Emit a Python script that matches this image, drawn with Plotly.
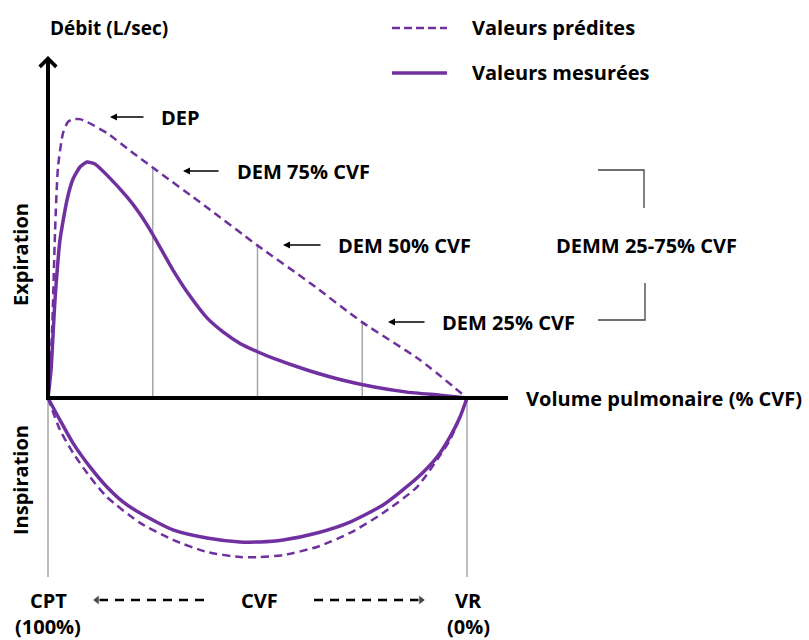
import plotly.graph_objects as go

# volume in % CVF (100 = CPT on the left, 0 = VR on the right), flow in L/sec
pred_exp_vol = [100, 99.05, 98.33, 97.61, 96.42, 95.23, 94.03, 92.36, 90.69, 85.92, 79.71,
                75.18, 62.53, 50.12, 37.47, 25.06, 11.22, 0]
pred_exp_flow = [0, 2.32, 5.89, 8.25, 9.46, 9.86, 9.96, 9.96, 9.86, 9.46, 8.75,
                 8.25, 6.86, 5.46, 4.11, 2.71, 1.36, 0]

meas_exp_vol = [100, 99.28, 98.33, 97.14, 95.47, 94.03, 92.36, 90.69, 88.78, 85.92, 81.15,
                78.04, 75.18, 70.17, 66.11, 62.05, 58.23, 54.18, 50.12, 46.30, 38.19,
                30.31, 22.43, 14.32, 6.44, 0]
meas_exp_flow = [0, 1.0, 3.5, 5.64, 7.07, 7.82, 8.25, 8.43, 8.36, 7.96, 7.18,
                 6.57, 5.89, 4.57, 3.64, 2.86, 2.36, 1.95, 1.66, 1.42, 1.0,
                 0.66, 0.40, 0.21, 0.10, 0]

meas_insp_vol = [100, 97.14, 94.03, 89.98, 85.92, 82.10, 78.04, 70.17, 62.05, 54.18, 49.40,
                 43.91, 35.80, 27.92, 20.05, 11.93, 7.16, 4.06, 1.67, 0]
meas_insp_flow = [0, -0.79, -1.61, -2.46, -3.18, -3.71, -4.11, -4.71, -5.0, -5.14, -5.14,
                  -5.07, -4.82, -4.43, -3.82, -2.86, -2.11, -1.39, -0.68, 0]

pred_insp_vol = [100, 97.14, 94.03, 89.98, 85.92, 78.04, 70.17, 62.05, 54.18, 49.40,
                 43.91, 35.80, 27.92, 20.05, 11.93, 7.16, 4.06, 1.67, 0]
pred_insp_flow = [0, -1.14, -1.96, -2.82, -3.54, -4.46, -5.07, -5.5, -5.68, -5.68,
                  -5.61, -5.32, -4.82, -4.11, -3.18, -2.21, -1.5, -0.68, 0]

dem_vol = [75, 50, 25]
dem_flow = [8.25, 5.46, 2.71]
dem_labels = ["DEM 75% CVF", "DEM 50% CVF", "DEM 25% CVF"]

end_vol = [100, 0]
end_depth = -6.39

W, H = 809, 640
PURPLE = "#7030A0"
GRAY = "#A6A6A6"
FONT = "Open Sans"
FS = 20


def vx(p):
    return 100 - (p - 48) / 4.19


def fy(p):
    return (398 - p) / 28


def px(x):
    return x / W


def py(y):
    return 1 - y / H


fig = go.Figure()

for v, f in zip(dem_vol, dem_flow):
    fig.add_trace(go.Scatter(x=[v, v], y=[0, f], mode="lines",
                             line=dict(color=GRAY, width=1.5), hoverinfo="skip"))
for v in end_vol:
    fig.add_trace(go.Scatter(x=[v, v], y=[0, end_depth], mode="lines",
                             line=dict(color=GRAY, width=1.5), hoverinfo="skip"))

fig.add_trace(go.Scatter(x=pred_exp_vol, y=pred_exp_flow, mode="lines",
                         line=dict(color=PURPLE, width=2.5, dash="8px,5px", shape="spline",
                                   smoothing=0.6)))
fig.add_trace(go.Scatter(x=pred_insp_vol, y=pred_insp_flow, mode="lines",
                         line=dict(color=PURPLE, width=2.5, dash="8px,5px", shape="spline",
                                   smoothing=0.6)))
fig.add_trace(go.Scatter(x=meas_exp_vol, y=meas_exp_flow, mode="lines",
                         line=dict(color=PURPLE, width=3.5, shape="spline", smoothing=0.5)))
fig.add_trace(go.Scatter(x=meas_insp_vol, y=meas_insp_flow, mode="lines",
                         line=dict(color=PURPLE, width=3.5, shape="spline", smoothing=0.6)))

# CPT <- CVF -> VR dashed arrows
fig.add_trace(go.Scatter(x=[vx(204), vx(97)], y=[fy(600), fy(600)], mode="lines+markers",
                         line=dict(color="black", width=2.5, dash="9px,7px"),
                         marker=dict(symbol="triangle-left", size=[0, 9], color="black")))
fig.add_trace(go.Scatter(x=[vx(314), vx(421)], y=[fy(600), fy(600)], mode="lines+markers",
                         line=dict(color="black", width=2.5, dash="9px,7px"),
                         marker=dict(symbol="triangle-right", size=[0, 9], color="black")))

shapes = [
    # x axis
    dict(type="line", xref="paper", yref="paper", x0=px(46), x1=px(508), y0=py(398), y1=py(398),
         line=dict(color="black", width=4)),
    # legend samples
    dict(type="line", xref="paper", yref="paper", x0=px(392), x1=px(447), y0=py(28), y1=py(28),
         line=dict(color=PURPLE, width=2.5, dash="8px,4px")),
    dict(type="line", xref="paper", yref="paper", x0=px(392), x1=px(447), y0=py(73), y1=py(73),
         line=dict(color=PURPLE, width=3.5)),
    # DEMM bracket
    dict(type="path", xref="paper", yref="paper",
         path=f"M {px(598)},{py(170)} L {px(644)},{py(170)} L {px(644)},{py(208)}",
         line=dict(color="#404040", width=1.3)),
    dict(type="path", xref="paper", yref="paper",
         path=f"M {px(645)},{py(283)} L {px(645)},{py(320)} L {px(598)},{py(320)}",
         line=dict(color="#404040", width=1.3)),
]


def txt(s, x, y, anchor="left", size=FS, angle=0):
    return dict(text=f"<b>{s}</b>", xref="paper", yref="paper", x=px(x), y=py(y),
                xanchor=anchor, yanchor="middle", showarrow=False, textangle=angle,
                font=dict(family=FONT, size=size, color="black"))


def arrow(head, tail, y):
    return dict(text="", xref="paper", yref="paper", x=px(head), y=py(y),
                ax=tail - head, ay=0, showarrow=True, arrowhead=2, arrowsize=1,
                arrowwidth=1.4, arrowcolor="black")


annotations = [
    txt("Débit (L/sec)", 48, 28, size=19),
    txt("Valeurs prédites", 470, 28),
    txt("Valeurs mesurées", 470, 73),
    txt("DEP", 159, 117),
    arrow(110, 145, 117),
    txt("DEMM 25-75% CVF", 646, 245, "center"),
    txt("Volume pulmonaire (% CVF)", 524, 398),
    txt("Expiration", 20, 255, "center", angle=-90),
    txt("Inspiration", 20, 480, "center", angle=-90),
    txt("CPT", 48, 600, "center"),
    txt("(100%)", 48, 626, "center"),
    txt("CVF", 259, 600, "center"),
    txt("VR", 468, 600, "center"),
    txt("(0%)", 468, 626, "center"),
    # y axis arrow
    dict(text="", xref="x", yref="y", x=100, y=fy(56), ax=0, ay=344, showarrow=True,
         arrowhead=4, arrowsize=0.8, arrowwidth=4, arrowcolor="black"),
]
for lab, (tx, hx, tl, ty) in zip(dem_labels, [(235, 183, 220, 171), (336, 283, 322, 245),
                                              (440, 388, 426, 322)]):
    annotations.append(txt(lab, tx, ty))
    annotations.append(arrow(hx, tl, ty))

fig.update_layout(
    width=W, height=H, margin=dict(l=0, r=0, t=0, b=0),
    paper_bgcolor="white", plot_bgcolor="white", showlegend=False,
    xaxis=dict(range=[vx(0), vx(W)], visible=False),
    yaxis=dict(range=[fy(H), fy(0)], visible=False),
    shapes=shapes, annotations=annotations, hovermode=False,
)
fig.write_html("out.html", config={"displayModeBar": False},
               post_script="document.body.style.margin='0';")
